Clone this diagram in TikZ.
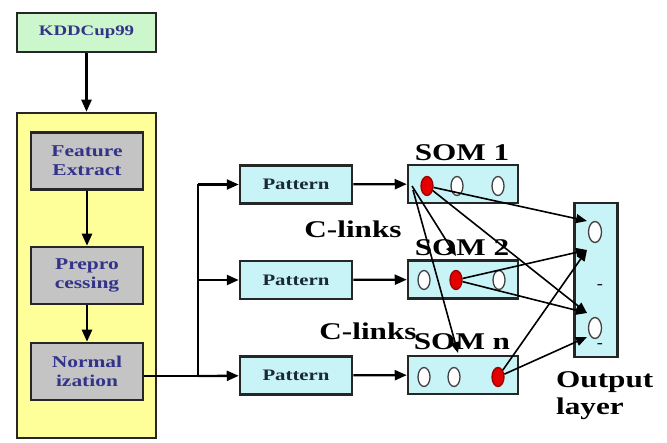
\documentclass[tikz,border=0pt]{standalone}
\usepackage{fontspec}
\setmainfont{Liberation Serif}[FakeStretch=1.3]
\usetikzlibrary{arrows.meta,shapes.geometric}
\definecolor{kddgreen}{HTML}{CCF7CC}
\definecolor{stageyellow}{HTML}{FFFF99}
\definecolor{stagegray}{HTML}{C4C4C4}
\definecolor{somcyan}{HTML}{C8F4F8}
\definecolor{txtblue}{HTML}{33338A}
\definecolor{txtdark}{HTML}{1A2A33}
\begin{document}
\begin{tikzpicture}[x=1pt,y=-1pt,
  box/.style={draw=black!85, line width=2.5pt, inner sep=0pt, align=center},
  stagebox/.style={box, fill=stagegray, minimum width=112pt, minimum height=57pt,
     font=\fontsize{16.5}{19}\selectfont\bfseries, text=txtblue},
  patbox/.style={box, fill=somcyan, minimum width=112pt, minimum height=38pt,
     font=\fontsize{16}{18}\selectfont\bfseries, text=txtdark},
  sombox/.style={box, fill=somcyan, minimum width=110pt, minimum height=38pt},
  somlabel/.style={font=\fontsize{24}{26}\selectfont\bfseries, text=black, inner sep=0pt},
  unit/.style={ellipse, draw=black!75, line width=1.3pt, fill=white, minimum width=12pt, minimum height=19pt, inner sep=0pt},
  win/.style={unit, fill=red!90!black, draw=red!60!black},
  arr/.style={-{Triangle[length=12pt,width=10pt]}, line width=2.3pt, draw=black},
  thin arr/.style={-{Triangle[length=11pt,width=9pt]}, line width=1.6pt, draw=black},
  plain/.style={line width=2.3pt, draw=black}
]
\useasboundingbox (0,0) rectangle (667,443);

% left column
\node[box, fill=kddgreen, minimum width=139pt, minimum height=39pt,
      font=\fontsize{14.5}{16}\selectfont\bfseries, text=txtblue] (kdd) at (86.5,32.5) {KDDCup99};
\node[box, fill=stageyellow, minimum width=139pt, minimum height=325pt] (outer) at (86.5,275.5) {};
\node[stagebox] (fe) at (87,161) {Feature\\Extract};
\node[stagebox] (pp) at (87,275.5) {Prepro\\cessing};
\node[stagebox] (nz) at (87,371.5) {Normal\\ization};

\draw[arr] (kdd) -- (outer);
\draw[arr] (fe) -- (pp);
\draw[arr] (pp) -- (nz);

% patterns
\node[patbox] (p1) at (296,184.5) {Pattern};
\node[patbox] (p2) at (296,280) {Pattern};
\node[patbox] (pn) at (296,375.5) {Pattern};

\coordinate (br) at (198,376);
\coordinate (b1) at (198,184.5);
\coordinate (b2) at (198,280);
\draw[plain] (nz.east |- br) -- (br);
\draw[plain] (br) -- (b1);
\draw[arr] (br) -- (pn);
\draw[arr] (b1) -- (p1);
\draw[arr] (b2) -- (p2);

% SOMs
\node[sombox] (s1) at (463,184) {};
\node[sombox] (s2) at (463,279.5) {};
\node[sombox] (sn) at (463,375) {};
\node[somlabel, anchor=base] (l1) at (462,161) {SOM 1};
\node[somlabel, anchor=base] (l2) at (462,256) {SOM 2};
\node[somlabel, anchor=base] (ln) at (462,350) {SOM n};
\node[somlabel, anchor=base] (c1) at (353,238) {C-links};
\node[somlabel, anchor=base] (c2) at (368,340) {C-links};

\draw[arr] (p1) -- (s1);
\draw[arr] (p2) -- (s2);
\draw[arr] (pn) -- (sn);

\node[win]  (u11) at (427,186) {};
\node[unit] (u12) at (457,186) {};
\node[unit] (u13) at (498,186) {};
\node[unit] (u21) at (424,280) {};
\node[win]  (u22) at (456,280) {};
\node[unit] (u23) at (499,280) {};
\node[unit] (un1) at (424,377) {};
\node[unit] (un2) at (454,377) {};
\node[win]  (un3) at (498,377) {};

% output layer
\node[box, fill=somcyan, minimum width=43pt, minimum height=154pt] (out) at (596,280) {};
\node[unit, minimum width=13pt, minimum height=21pt] (o1) at (595,232) {};
\node[unit, minimum width=13pt, minimum height=21pt] (o2) at (595,328) {};
\node[font=\fontsize{14}{14}\selectfont\bfseries, inner sep=0pt] (d1) at (600,287) {-};
\node[font=\fontsize{14}{14}\selectfont\bfseries, inner sep=0pt] (d2) at (600,346) {-};
\node[font=\fontsize{24}{27}\selectfont\bfseries, align=left, anchor=north west, inner sep=0pt] (ol) at (556,371) {Output\\layer};

\coordinate (t1) at (587,221);
\coordinate (t2) at (587,250);
\coordinate (t3) at (587,313);
\coordinate (t4) at (587,337);
\coordinate (c1s) at (412,186);
\coordinate (c1a) at (413,190);
\coordinate (s2top) at (456,256);
\coordinate (sntop) at (458,353);

\draw[thin arr] (u11) -- (t1);
\draw[thin arr] (u11) -- (t3);
\draw[thin arr] (u22) -- (t2);
\draw[thin arr] (u22) -- (t3);
\draw[thin arr] (un3) -- (t2);
\draw[thin arr] (un3) -- (t4);
\draw[thin arr] (c1s) -- (s2top);
\draw[thin arr] (c1a) -- (sntop);
\end{tikzpicture}
\end{document}
